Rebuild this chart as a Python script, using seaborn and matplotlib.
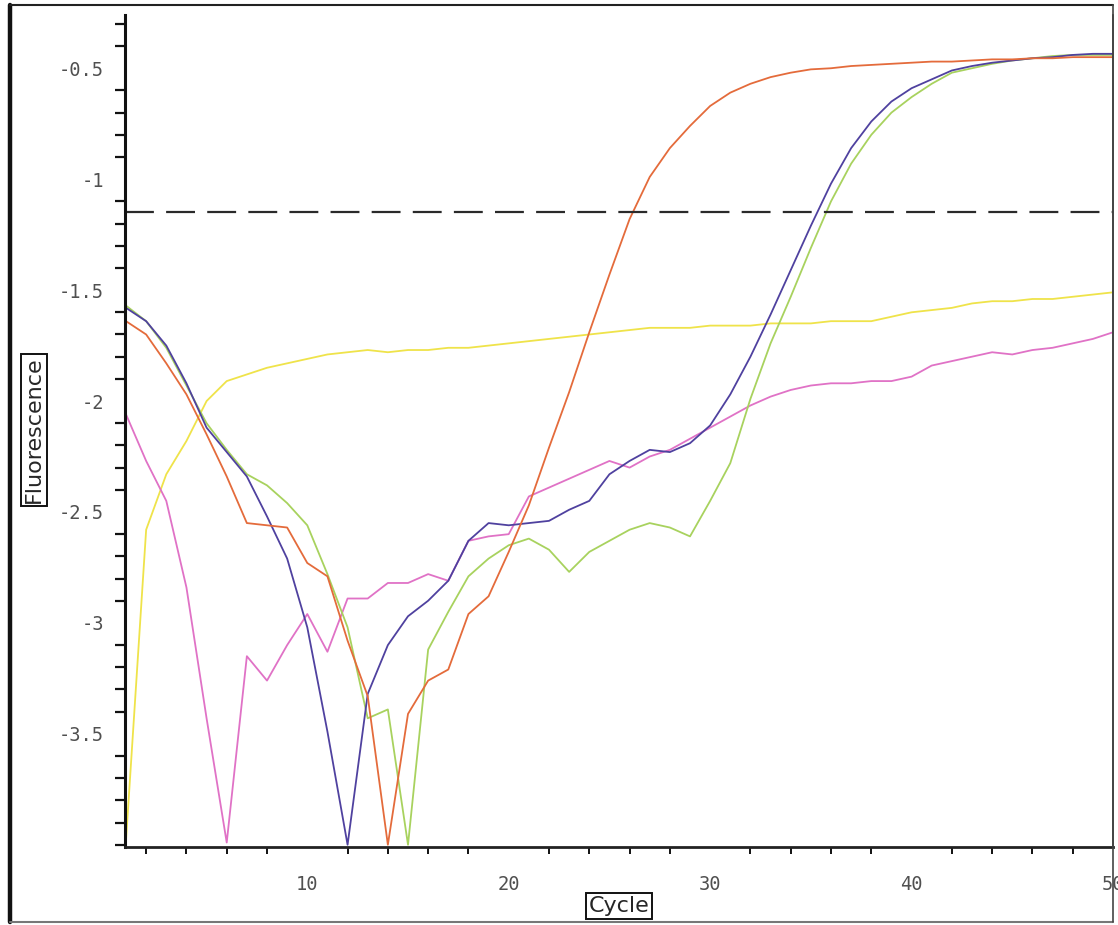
import numpy as np
import pandas as pd
import matplotlib
matplotlib.use("Agg")
import matplotlib.pyplot as plt
from matplotlib.ticker import MultipleLocator, FixedLocator, FormatStrFormatter
import seaborn as sns

# ---------------- data ----------------
cycles = list(range(1, 51))

orange = [-1.64, -1.70, -1.83, -1.97, -2.15, -2.34, -2.55, -2.56, -2.57, -2.73,
          -2.79, -3.08, -3.33, -4.00, -3.41, -3.26, -3.21, -2.96, -2.88, -2.68,
          -2.47, -2.21, -1.96, -1.69, -1.43, -1.18, -0.99, -0.86, -0.76, -0.67,
          -0.61, -0.57, -0.54, -0.52, -0.505, -0.50, -0.49, -0.485, -0.48, -0.475,
          -0.47, -0.47, -0.465, -0.46, -0.46, -0.455, -0.455, -0.45, -0.45, -0.45]

blue = [-1.58, -1.64, -1.75, -1.92, -2.12, -2.23, -2.34, -2.52, -2.71, -3.02,
        -3.49, -4.00, -3.32, -3.10, -2.97, -2.90, -2.81, -2.63, -2.55, -2.56,
        -2.55, -2.54, -2.49, -2.45, -2.33, -2.27, -2.22, -2.23, -2.19, -2.11,
        -1.97, -1.80, -1.61, -1.41, -1.21, -1.02, -0.86, -0.74, -0.65, -0.59,
        -0.55, -0.51, -0.49, -0.475, -0.465, -0.455, -0.45, -0.44, -0.435, -0.435]

green = [-1.57, -1.64, -1.76, -1.93, -2.10, -2.22, -2.33, -2.38, -2.46, -2.56,
         -2.78, -3.02, -3.43, -3.39, -4.00, -3.12, -2.95, -2.79, -2.71, -2.65,
         -2.62, -2.67, -2.77, -2.68, -2.63, -2.58, -2.55, -2.57, -2.61, -2.45,
         -2.28, -1.99, -1.74, -1.53, -1.31, -1.10, -0.93, -0.80, -0.70, -0.63,
         -0.57, -0.52, -0.50, -0.48, -0.465, -0.455, -0.445, -0.44, -0.44, -0.44]

yellow = [-3.98, -2.58, -2.33, -2.18, -2.00, -1.91, -1.88, -1.85, -1.83, -1.81,
          -1.79, -1.78, -1.77, -1.78, -1.77, -1.77, -1.76, -1.76, -1.75, -1.74,
          -1.73, -1.72, -1.71, -1.70, -1.69, -1.68, -1.67, -1.67, -1.67, -1.66,
          -1.66, -1.66, -1.65, -1.65, -1.65, -1.64, -1.64, -1.64, -1.62, -1.60,
          -1.59, -1.58, -1.56, -1.55, -1.55, -1.54, -1.54, -1.53, -1.52, -1.51]

pink = [-2.06, -2.27, -2.45, -2.84, -3.43, -3.99, -3.15, -3.26, -3.10, -2.96,
        -3.13, -2.89, -2.89, -2.82, -2.82, -2.78, -2.81, -2.63, -2.61, -2.60,
        -2.43, -2.39, -2.35, -2.31, -2.27, -2.30, -2.25, -2.22, -2.17, -2.12,
        -2.07, -2.02, -1.98, -1.95, -1.93, -1.92, -1.92, -1.91, -1.91, -1.89,
        -1.84, -1.82, -1.80, -1.78, -1.79, -1.77, -1.76, -1.74, -1.72, -1.69]

threshold = -1.15

series_names = ["yellow", "pink", "green", "blue", "orange"]
series_values = [yellow, pink, green, blue, orange]
series_colors = {"yellow": "#efe34a", "pink": "#e072c6", "green": "#a8d25e",
                 "blue": "#4f419f", "orange": "#e46b3b"}

y_major = [-3.5, -3.0, -2.5, -2.0, -1.5, -1.0, -0.5]
x_major = [10, 20, 30, 40, 50]

df = pd.concat([pd.DataFrame({"Cycle": cycles, "Fluorescence": v, "well": n})
                for n, v in zip(series_names, series_values)], ignore_index=True)

# ---------------- styling ----------------
sns.set_style("white")
plt.rcParams["font.family"] = ["DejaVu Sans"]
plt.rcParams["axes.unicode_minus"] = False

fig = plt.figure(figsize=(11.18, 9.25), dpi=100)
ax = fig.add_axes([125 / 1118, 1 - 847 / 925, (1113 - 125) / 1118, (847 - 15) / 925])

sns.lineplot(data=df, x="Cycle", y="Fluorescence", hue="well",
             hue_order=series_names, palette=series_colors, legend=False,
             linewidth=1.3, ax=ax)

ax.axhline(threshold, color="#2a2a2a", lw=1.6, linestyle=(0, (13, 5.5)))

ax.set_xlim(0.95, 50)
ax.set_ylim(-4.01, -0.26)

ax.xaxis.set_major_locator(FixedLocator(x_major))
ax.xaxis.set_minor_locator(MultipleLocator(2))
ax.yaxis.set_major_locator(FixedLocator(y_major))
ax.yaxis.set_minor_locator(MultipleLocator(0.1))
ax.yaxis.set_major_formatter(FormatStrFormatter("%g"))

mono = "DejaVu Sans Mono"
for lab in ax.get_xticklabels() + ax.get_yticklabels():
    lab.set_fontfamily(mono)
ax.tick_params(axis="both", which="major", labelsize=13.5, labelcolor="#505050",
               color="#111111", width=1.6)
ax.tick_params(axis="y", which="major", direction="out", length=12, pad=3)
ax.tick_params(axis="y", which="minor", direction="out", length=7, width=1.6,
               color="#111111", left=True)
ax.tick_params(axis="x", which="major", direction="out", length=8, pad=12)
ax.tick_params(axis="x", which="minor", direction="out", length=5, width=1.4,
               color="#111111", bottom=True)

ax.set_xlabel("")
ax.set_ylabel("")
ax.spines["top"].set_visible(False)
ax.spines["left"].set_linewidth(2.2)
ax.spines["left"].set_color("#111111")
ax.spines["bottom"].set_linewidth(2.0)
ax.spines["bottom"].set_color("#222222")
ax.spines["right"].set_linewidth(1.2)
ax.spines["right"].set_color("#333333")

box = dict(boxstyle="square,pad=0.12", fc="white", ec="#111111", lw=1.4)
fig.text(34 / 1118, 1 - 430 / 925, "Fluorescence", rotation=90, ha="center",
         va="center", fontsize=16, family="DejaVu Sans", bbox=box)
fig.text(619 / 1118, 1 - 906 / 925, "Cycle", ha="center", va="center",
         fontsize=16, family="DejaVu Sans", bbox=box)

# outer frame of the screenshot
fig.add_artist(plt.Line2D([10 / 1118, 10 / 1118], [1 - 5 / 925, 1 - 922 / 925],
                          transform=fig.transFigure, color="#111111", lw=3.2))
fig.add_artist(plt.Line2D([10 / 1118, 1113 / 1118], [1 - 5 / 925, 1 - 5 / 925],
                          transform=fig.transFigure, color="#222222", lw=1.5))
fig.add_artist(plt.Line2D([10 / 1118, 1113 / 1118], [1 - 922 / 925, 1 - 922 / 925],
                          transform=fig.transFigure, color="#777777", lw=1.5))
fig.add_artist(plt.Line2D([1113 / 1118, 1113 / 1118], [1 - 5 / 925, 1 - 922 / 925],
                          transform=fig.transFigure, color="#444444", lw=1.2))

fig.savefig("out.png", dpi=100, facecolor="white")
